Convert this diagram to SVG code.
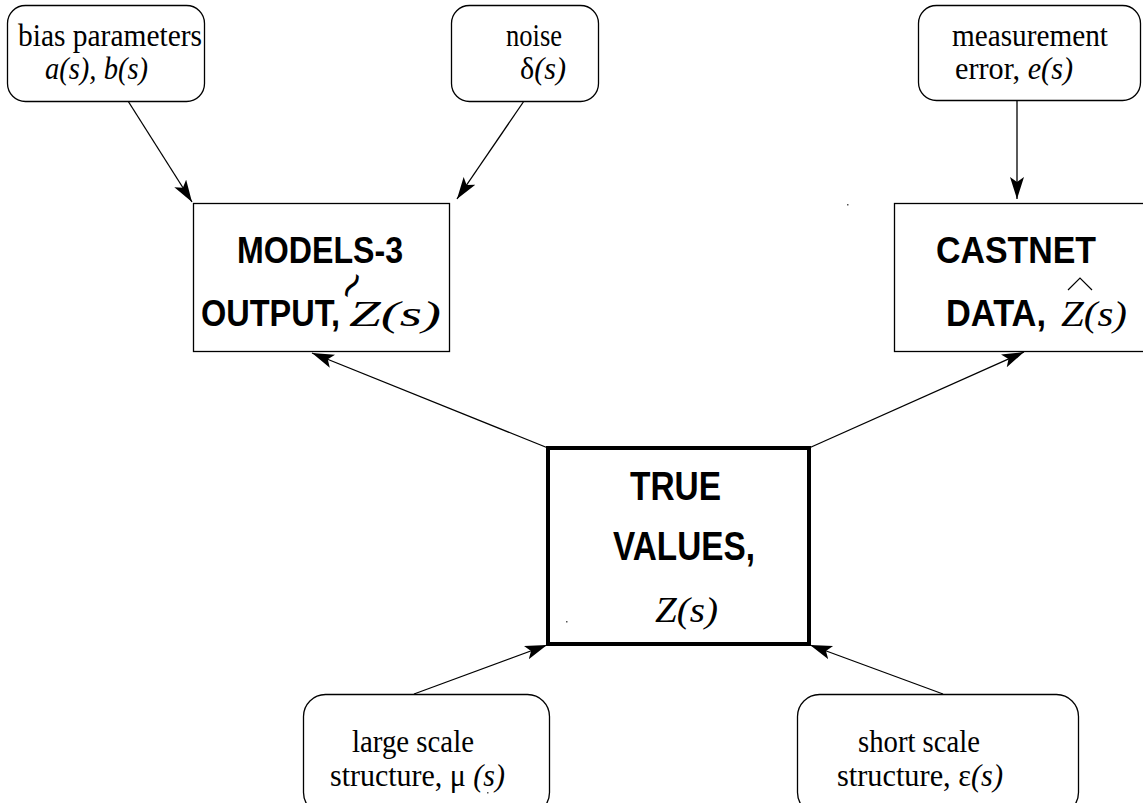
<svg xmlns="http://www.w3.org/2000/svg" width="1143" height="803" viewBox="0 0 1143 803">
<defs>
<marker id="ah" markerUnits="userSpaceOnUse" markerWidth="24" markerHeight="16" refX="22" refY="7" orient="auto">
<path d="M0,0 L22,7 L0,14 L5,7 Z" fill="#000"/>
</marker>
<style>
.rb{fill:#fff;stroke:#000;stroke-width:1.3}
.bx{fill:#fff;stroke:#000;stroke-width:1.3}
.bxt{fill:#fff;stroke:#000;stroke-width:4}
.sm{font-family:"Liberation Serif",serif;font-size:31px;fill:#000}
.it{font-style:italic}
.bd{font-family:"Liberation Sans",Arial,sans-serif;font-weight:bold;font-size:36px;fill:#000}
.tv{font-size:40px}
.zi{font-family:"Liberation Serif",serif;font-style:italic;font-size:35px;fill:#000}
.cn line{stroke:#000;stroke-width:1.3;marker-end:url(#ah)}
.dot{fill:#555}
</style>
</defs>
<rect width="1143" height="803" fill="#fff"/>
<g class="cn" id="connectors">
<line x1="128" y1="101" x2="192" y2="202"/>
<line x1="524" y1="101" x2="457" y2="199"/>
<line x1="1017" y1="101" x2="1017" y2="199"/>
<line x1="548" y1="448" x2="312" y2="353"/>
<line x1="809" y1="448" x2="1024" y2="352"/>
<line x1="414" y1="694" x2="547" y2="645"/>
<line x1="943" y1="694" x2="810" y2="645"/>
</g>
<g id="bias">
<rect class="rb" x="7.5" y="5.5" width="197" height="96" rx="18"/>
<text class="sm" x="18" y="46" textLength="184" lengthAdjust="spacingAndGlyphs">bias parameters</text>
<text class="sm it" x="45" y="79" textLength="103" lengthAdjust="spacingAndGlyphs">a(s), b(s)</text>
</g>
<g id="noise">
<rect class="rb" x="451.5" y="5.5" width="147" height="96" rx="18"/>
<text class="sm" x="506" y="46" textLength="56" lengthAdjust="spacingAndGlyphs">noise</text>
<text class="sm" x="520" y="79" textLength="46" lengthAdjust="spacingAndGlyphs">δ<tspan class="it">(s)</tspan></text>
</g>
<g id="measurement">
<rect class="rb" x="918.5" y="5.5" width="222" height="95" rx="18"/>
<text class="sm" x="952" y="46" textLength="156" lengthAdjust="spacingAndGlyphs">measurement</text>
<text class="sm" x="955" y="79" textLength="118" lengthAdjust="spacingAndGlyphs">error, <tspan class="it">e(s)</tspan></text>
</g>
<g id="models3">
<rect class="bx" x="193.5" y="203.5" width="256" height="148"/>
<text class="bd" x="237" y="263" textLength="166" lengthAdjust="spacingAndGlyphs">MODELS-3</text>
<text class="bd" x="201" y="326" textLength="139" lengthAdjust="spacingAndGlyphs">OUTPUT,</text>
<text class="zi" x="349" y="326" textLength="92" lengthAdjust="spacingAndGlyphs">Z(s)</text>
<text x="351" y="285" text-anchor="middle" dominant-baseline="central" transform="rotate(-55 351 285)" style="font-family:'DejaVu Sans',sans-serif;font-size:38px">∼</text>
</g>
<g id="castnet">
<rect class="bx" x="894.5" y="203.5" width="250" height="148"/>
<text class="bd" x="936" y="263" textLength="160" lengthAdjust="spacingAndGlyphs">CASTNET</text>
<text class="bd" x="946" y="326" textLength="100" lengthAdjust="spacingAndGlyphs">DATA,</text>
<text class="zi" x="1061" y="326" textLength="66" lengthAdjust="spacingAndGlyphs">Z(s)</text>
<path d="M1068,290 L1080,278 L1092,290" fill="none" stroke="#000" stroke-width="1.2"/>
</g>
<g id="true">
<rect class="bxt" x="548" y="448" width="261" height="196"/>
<text class="bd tv" x="630" y="500" textLength="91" lengthAdjust="spacingAndGlyphs">TRUE</text>
<text class="bd tv" x="613" y="560" textLength="142" lengthAdjust="spacingAndGlyphs">VALUES,</text>
<text class="zi" x="655" y="622" textLength="63" lengthAdjust="spacingAndGlyphs">Z(s)</text>
</g>
<g id="large">
<rect class="rb" x="303.5" y="694.5" width="246" height="120" rx="22"/>
<text class="sm" x="352" y="752" textLength="122" lengthAdjust="spacingAndGlyphs">large scale</text>
<text class="sm" x="330" y="786" textLength="175" lengthAdjust="spacingAndGlyphs">structure,  μ <tspan class="it">(s)</tspan></text>
</g>
<g id="short">
<rect class="rb" x="797.5" y="694.5" width="281" height="120" rx="22"/>
<text class="sm" x="858" y="752" textLength="122" lengthAdjust="spacingAndGlyphs">short scale</text>
<text class="sm" x="837" y="786" textLength="166" lengthAdjust="spacingAndGlyphs">structure,  ε<tspan class="it">(s)</tspan></text>
</g>
<g id="specks">
<rect class="dot" x="847" y="204" width="1.5" height="1.5"/>
<rect class="dot" x="566" y="621" width="1.5" height="1.5"/>
<rect class="dot" x="487" y="792" width="1.5" height="1.5"/>
</g>
</svg>
